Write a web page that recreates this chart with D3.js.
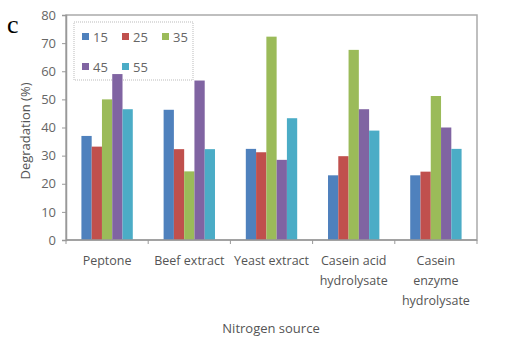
<!DOCTYPE html>
<html><head><meta charset="utf-8">
<script src="https://cdn.jsdelivr.net/npm/d3@7/dist/d3.min.js"></script>
<style>body{margin:0;background:#fff}svg{display:block}text{font-family:"Open Sans",sans-serif}</style>
</head><body><svg id="c" width="527" height="348"></svg>
<script>
const categories = [["Peptone"],["Beef extract"],["Yeast extract"],["Casein acid","hydrolysate"],["Casein","enzyme","hydrolysate"]];
const seriesNames = ["15","25","35","45","55"];
const s15 = [37, 46.3, 32.4, 23, 23];
const s25 = [33.2, 32.3, 31.2, 29.8, 24.3];
const s35 = [50, 24.4, 72.3, 67.6, 51.2];
const s45 = [59, 56.7, 28.5, 46.5, 40];
const s55 = [46.5, 32.3, 43.3, 38.9, 32.4];
const yTicks = [0,10,20,30,40,50,60,70,80];
const colors = ["#4F81BD","#C0504D","#9BBB59","#8064A2","#4BACC6"];
const series = [s15,s25,s35,s45,s55];

const svg = d3.select("#c");
const L=66,R=477,T=15,B=240;
const x0 = d3.scaleBand().domain(d3.range(categories.length)).range([L,R]).paddingInner(0).paddingOuter(0);
const x1 = d3.scaleBand().domain(d3.range(seriesNames.length)).range([0,x0.bandwidth()]).paddingOuter(1.5).paddingInner(0);
const y = d3.scaleLinear().domain([0,80]).range([B,T]);

// plot border
svg.append("rect").attr("x",L).attr("y",T).attr("width",R-L).attr("height",B-T).attr("fill","none").attr("stroke","#aaa").attr("stroke-width",1.5);

// legend (drawn beneath bars)
const lg = svg.append("g");
lg.append("rect").attr("x",74).attr("y",22).attr("width",119).attr("height",58).attr("fill","#fff").attr("stroke","#bbb").attr("stroke-dasharray","1,1");
const pos = [[82,37],[122,37],[162,37],[82,67],[122,67]];
seriesNames.forEach((n,i)=>{
  lg.append("rect").attr("x",pos[i][0]).attr("y",pos[i][1]-4).attr("width",7).attr("height",7).attr("fill",colors[i]);
  lg.append("text").attr("x",pos[i][0]+11).attr("y",pos[i][1]+5).attr("fill","#666").style("font-size","13px").text(n);
});

// bars
series.forEach((s,si)=>{
  svg.append("g").selectAll("rect").data(s).join("rect")
    .attr("x",(d,i)=>x0(i)+x1(si)).attr("width",x1.bandwidth())
    .attr("y",d=>y(d)).attr("height",d=>B-y(d)).attr("fill",colors[si]);
});

// y axis
const ya = svg.append("g").attr("transform",`translate(${L},0)`).call(d3.axisLeft(y).tickValues(yTicks).tickSize(4).tickPadding(6));
ya.select(".domain").attr("stroke","#999").attr("stroke-width",1.5);
ya.selectAll(".tick line").attr("stroke","#999");
ya.selectAll("text").attr("fill","#666").style("font-size","13px").style("font-family","'Open Sans',sans-serif");

// x axis
const xa = svg.append("g").attr("transform",`translate(0,${B})`);
xa.append("line").attr("x1",L).attr("x2",R).attr("stroke","#999").attr("stroke-width",1.5);
const bounds = d3.range(categories.length+1).map(i=> i<categories.length ? x0(i) : R);
xa.selectAll("line.t").data(bounds).join("line").attr("class","t").attr("x1",d=>d).attr("x2",d=>d).attr("y1",0).attr("y2",4).attr("stroke","#999");
categories.forEach((lines,i)=>{
  const t = svg.append("text").attr("text-anchor","middle").attr("fill","#555").style("font-size","12.5px")
    .attr("x",x0(i)+x0.bandwidth()/2).attr("y",265);
  lines.forEach((ln,j)=>t.append("tspan").attr("x",x0(i)+x0.bandwidth()/2).attr("dy",j?20:0).text(ln));
});

// axis titles
svg.append("text").attr("text-anchor","middle").attr("fill","#555").style("font-size","13px")
  .attr("transform",`translate(30,131) rotate(-90)`).text("Degradation (%)");
svg.append("text").attr("text-anchor","middle").attr("fill","#555").style("font-size","13px")
  .attr("x",271).attr("y",333).text("Nitrogen source");
svg.append("text").attr("x",7).attr("y",33).style("font-family","'Liberation Serif',serif").style("font-size","26px").attr("fill","#000").text("c");
</script></body></html>
